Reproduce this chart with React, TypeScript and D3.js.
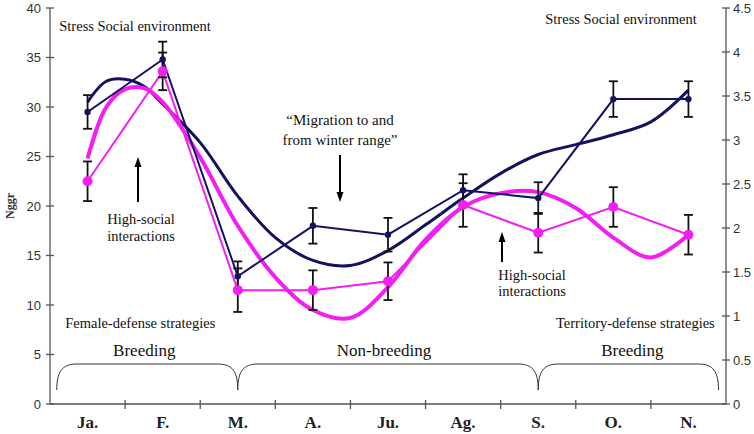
import React, { useEffect, useRef } from 'react';
import * as d3 from 'd3';

const months = ['Ja.', 'F.', 'M.', 'A.', 'Ju.', 'Ag.', 'S.', 'O.', 'N.'];

// monthly means and error bars (left axis units)
const navyMean = [29.5, 34.8, 12.9, 18.0, 17.1, 21.6, 20.8, 30.8, 30.8];
const navyErr = [1.7, 1.8, 1.5, 1.8, 1.7, 1.6, 1.6, 1.8, 1.8];
const pinkMean = [22.5, 33.6, 11.5, 11.5, 12.4, 20.1, 17.3, 19.9, 17.1];
const pinkErr = [2.0, 1.9, 2.2, 2.0, 1.9, 2.2, 2.0, 2.0, 2.0];

// smooth trend curves, read at month positions (0 = Ja., 8 = N.)
const trendPos = [0, 0.25, 0.5, 0.75, 1, 1.5, 2, 2.5, 3, 3.5, 4, 4.5, 5, 5.5, 6, 6.5, 7, 7.5, 8];
const navyTrend = [30.5, 32.6, 32.8, 32.1, 30.3, 26.4, 21.0, 16.8, 14.5, 14.0, 15.5, 18.1, 20.8, 23.3, 25.2, 26.2, 27.2, 28.5, 31.7];
const pinkTrend = [24.8, 30.0, 31.8, 31.9, 30.5, 24.9, 18.0, 12.8, 9.5, 8.7, 11.8, 16.6, 19.9, 21.3, 21.4, 19.8, 16.8, 14.8, 17.1];

const leftTicks = [0, 5, 10, 15, 20, 25, 30, 35, 40];
const rightTicks = [0, 0.5, 1, 1.5, 2, 2.5, 3, 3.5, 4, 4.5];

// season braces: from / to month index (-0.41 / 8.4 = near the axes)
const braces = [
  { from: -0.41, to: 2, label: 'Breeding', note: 'Female-defense strategies', labelShift: -3, noteShift: -7 },
  { from: 2, to: 6, label: 'Non-breeding', note: '', labelShift: -4, noteShift: 0 },
  { from: 6, to: 8.4, label: 'Breeding', note: 'Territory-defense strategies', labelShift: 4, noteShift: 7 },
];

const NAVY = '#12125e';
const PINK = '#f21ef2';
const SERIF = '"Liberation Serif", "DejaVu Serif", serif';
const SANS = '"Liberation Sans", Arial, sans-serif';

const App: React.FC = () => {
  const svgRef = useRef<SVGSVGElement>(null);

  useEffect(() => {
    if (!svgRef.current) return;
    d3.select(svgRef.current).selectAll('*').remove();

    const width = 754;
    const height = 434;
    const left = 50, right = 726, top = 8, bottom = 404;

    const svg = d3.select(svgRef.current)
      .attr('width', width)
      .attr('height', height)
      .attr('viewBox', `0 0 ${width} ${height}`);

    const x = d3.scaleBand<string>().domain(months).range([left, right]).padding(0);
    const bw = x.bandwidth();
    const cx = (m: string) => (x(m) as number) + bw / 2;
    const xi = d3.scaleLinear().domain([0, 8]).range([cx(months[0]), cx(months[8])]);
    const y = d3.scaleLinear().domain([0, 40]).range([bottom, top]);
    const y2 = d3.scaleLinear().domain([0, 4.5]).range([bottom, top]);

    const axisColor = '#555';

    // axes lines
    svg.append('line').attr('x1', left).attr('x2', left).attr('y1', top).attr('y2', bottom)
      .attr('stroke', axisColor).attr('stroke-width', 1.3);
    svg.append('line').attr('x1', right).attr('x2', right).attr('y1', top).attr('y2', bottom)
      .attr('stroke', axisColor).attr('stroke-width', 1.3);
    svg.append('line').attr('x1', left).attr('x2', right).attr('y1', bottom).attr('y2', bottom)
      .attr('stroke', axisColor).attr('stroke-width', 1.3);

    // left ticks
    leftTicks.forEach(t => {
      svg.append('line').attr('x1', left - 4).attr('x2', left + 4)
        .attr('y1', y(t)).attr('y2', y(t)).attr('stroke', axisColor).attr('stroke-width', 1.3);
      svg.append('text').attr('x', left - 9).attr('y', y(t) + 4.5)
        .attr('text-anchor', 'end').style('font-family', SANS).style('font-size', '13px')
        .style('fill', '#333').text(t);
    });
    // right ticks
    rightTicks.forEach(t => {
      svg.append('line').attr('x1', right - 4).attr('x2', right + 4)
        .attr('y1', y2(t)).attr('y2', y2(t)).attr('stroke', axisColor).attr('stroke-width', 1.3);
      svg.append('text').attr('x', right + 7).attr('y', y2(t) + 4.5)
        .attr('text-anchor', 'start').style('font-family', SANS).style('font-size', '13px')
        .style('fill', '#333').text(t);
    });
    // x ticks at band boundaries
    months.slice(1).forEach(m => {
      const xx = x(m) as number;
      svg.append('line').attr('x1', xx).attr('x2', xx).attr('y1', bottom - 4).attr('y2', bottom + 5)
        .attr('stroke', axisColor).attr('stroke-width', 1.3);
    });
    months.forEach(m => {
      svg.append('text').attr('x', cx(m)).attr('y', bottom + 24)
        .attr('text-anchor', 'middle').style('font-family', SERIF).style('font-size', '17px')
        .style('font-weight', 'bold').style('fill', '#222').text(m);
    });

    // y label
    svg.append('text').attr('transform', `translate(14,${y(20)}) rotate(-90)`)
      .attr('text-anchor', 'middle').style('font-family', SERIF).style('font-size', '12px')
      .style('font-weight', 'bold').style('fill', '#333').text('Nggr');

    // braces
    const by = 364, tipY = 390, r = 20;
    braces.forEach(b => {
      const a = xi(b.from), c = xi(b.to);
      const p = d3.path();
      p.moveTo(a, tipY);
      p.bezierCurveTo(a, by + 8, a + 5, by, a + r, by);
      p.lineTo(c - r, by);
      p.bezierCurveTo(c - 5, by, c, by + 8, c, tipY);
      svg.append('path').attr('d', p.toString()).attr('fill', 'none')
        .attr('stroke', '#333').attr('stroke-width', 1);
      const mid = (a + c) / 2;
      svg.append('text').attr('x', mid + b.labelShift).attr('y', 356).attr('text-anchor', 'middle')
        .style('font-family', SERIF).style('font-size', '17px').style('fill', '#111').text(b.label);
      if (b.note) {
        svg.append('text').attr('x', mid + b.noteShift).attr('y', 328).attr('text-anchor', 'middle')
          .style('font-family', SERIF).style('font-size', '14.5px').style('fill', '#111').text(b.note);
      }
    });

    // trend curves
    const trendLine = d3.line<number>()
      .x((_, i) => xi(trendPos[i]))
      .y(d => y(d))
      .curve(d3.curveCatmullRom.alpha(0.5));
    svg.append('path').attr('d', trendLine(navyTrend) as string).attr('fill', 'none')
      .attr('stroke', NAVY).attr('stroke-width', 3);
    svg.append('path').attr('d', trendLine(pinkTrend) as string).attr('fill', 'none')
      .attr('stroke', PINK).attr('stroke-width', 4);

    // thin mean lines
    const meanLine = d3.line<number>().x((_, i) => cx(months[i])).y(d => y(d));
    svg.append('path').attr('d', meanLine(navyMean) as string).attr('fill', 'none')
      .attr('stroke', NAVY).attr('stroke-width', 2);
    svg.append('path').attr('d', meanLine(pinkMean) as string).attr('fill', 'none')
      .attr('stroke', PINK).attr('stroke-width', 2);

    // error bars
    const errBar = (mean: number[], err: number[]) => {
      mean.forEach((v, i) => {
        const xx = cx(months[i]);
        const g = svg.append('g').attr('stroke', '#111').attr('stroke-width', 1.8);
        g.append('line').attr('x1', xx).attr('x2', xx).attr('y1', y(v - err[i])).attr('y2', y(v + err[i]));
        g.append('line').attr('x1', xx - 4.5).attr('x2', xx + 4.5).attr('y1', y(v - err[i])).attr('y2', y(v - err[i]));
        g.append('line').attr('x1', xx - 4.5).attr('x2', xx + 4.5).attr('y1', y(v + err[i])).attr('y2', y(v + err[i]));
      });
    };
    errBar(navyMean, navyErr);
    errBar(pinkMean, pinkErr);

    // markers
    svg.selectAll('circle.navy').data(navyMean).enter().append('circle')
      .attr('cx', (_, i) => cx(months[i])).attr('cy', d => y(d)).attr('r', 3.2).attr('fill', NAVY);
    svg.selectAll('circle.pink').data(pinkMean).enter().append('circle')
      .attr('cx', (_, i) => cx(months[i])).attr('cy', d => y(d)).attr('r', 5).attr('fill', PINK);

    // annotations
    const note = (tx: number, ty: number, lines: string[], size: number, anchor = 'middle', gap = 17) => {
      lines.forEach((l, k) => {
        svg.append('text').attr('x', tx).attr('y', ty + k * gap).attr('text-anchor', anchor)
          .style('font-family', SERIF).style('font-size', `${size}px`).style('fill', '#111').text(l);
      });
    };
    note(135, 31, ['Stress Social environment'], 14.5);
    note(621, 24, ['Stress Social environment'], 14.5);
    note(141, 224, ['High-social', 'interactions'], 14.5);
    note(532, 280, ['High-social', 'interactions'], 14.5, 'middle', 16);
    note(340, 125, ['\u201CMigration to and', 'from winter range\u201D'], 15, 'middle', 20);

    // arrows
    const arrow = (ax: number, y1: number, y2a: number) => {
      const dir = y2a < y1 ? 1 : -1;
      svg.append('line').attr('x1', ax).attr('x2', ax).attr('y1', y1).attr('y2', y2a + dir * 8)
        .attr('stroke', '#000').attr('stroke-width', 2);
      svg.append('path')
        .attr('d', `M${ax},${y2a} L${ax - 3.5},${y2a + dir * 10} L${ax + 3.5},${y2a + dir * 10} Z`)
        .attr('fill', '#000');
    };
    arrow(138, 202, 157);
    arrow(502, 262, 232);
    arrow(340, 155, 202);
  }, []);

  return <svg ref={svgRef} style={{ position: 'absolute', left: 0, top: 0 }}></svg>;
};

export default App;
